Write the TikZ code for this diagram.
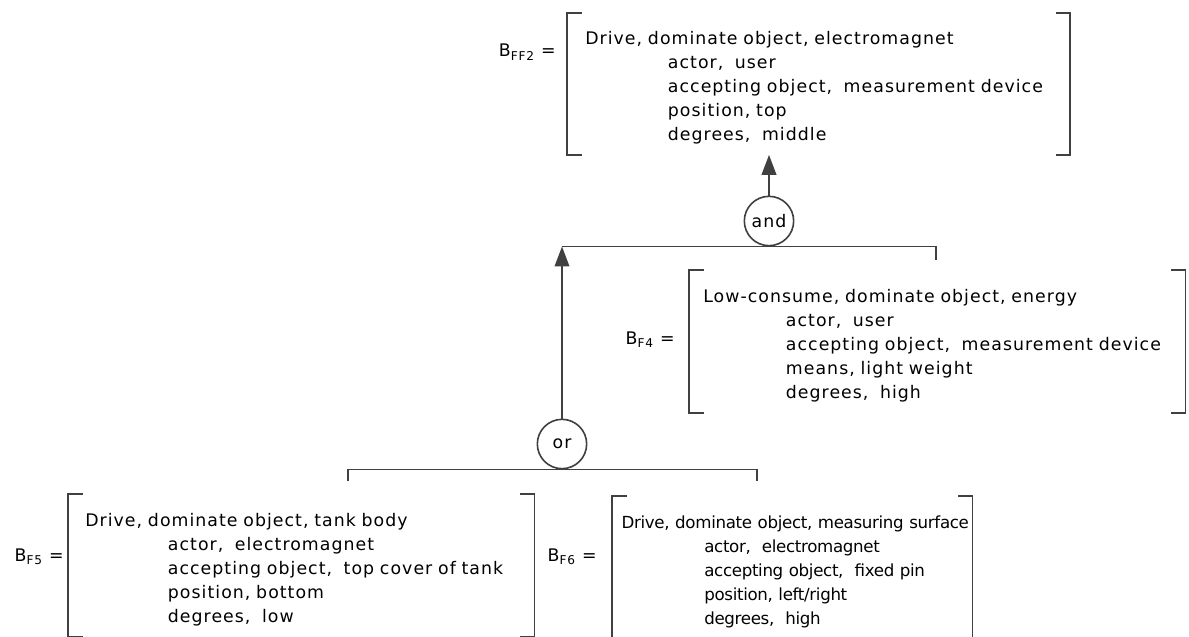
\documentclass[tikz,border=0pt]{standalone}
\usepackage{fontspec}
\newfontfamily\diagfont[LetterSpace=6]{DejaVu Sans}
\newfontfamily\tightfont[LetterSpace=-2]{DejaVu Sans}
\usetikzlibrary{arrows.meta}
\definecolor{linegray}{HTML}{404040}

% one bracketed entry: first line, then four indented lines
\newcommand{\ind}{\hspace*{62pt}}
\newcommand{\entry}[5]{\begin{tabular}{@{}l@{}}\rule{0pt}{18pt}#1\\\ind #2\\\ind #3\\\ind #4\\\ind #5\end{tabular}}
\newcommand{\brackets}[1]{%
  \draw[bracket] ([xshift=11pt]#1.north west) -- (#1.north west) -- (#1.south west) -- ([xshift=11pt]#1.south west);
  \draw[bracket] ([xshift=-11pt]#1.north east) -- (#1.north east) -- (#1.south east) -- ([xshift=-11pt]#1.south east);}

\begin{document}
\begin{tikzpicture}[
    x=0.75pt, y=-0.75pt,
    font=\diagfont\fontsize{13}{18}\selectfont,
    block/.style={rectangle, anchor=north west, align=left, inner ysep=0pt, minimum height=106pt},
    eqlabel/.style={anchor=east, inner sep=0pt},
    gate/.style={circle, draw=linegray, line width=1.2pt, minimum size=37pt, inner sep=0pt},
    bracket/.style={draw=linegray, line width=1.3pt},
    link/.style={draw=linegray, line width=1.3pt},
    arrow/.style={link, -{Triangle[length=15pt,width=11pt]}}
]
\useasboundingbox (0,0) rectangle (1189,636);

% --- Entries ---
\node (ff2) [block, inner xsep=13.5pt, text width=350pt] at (567,13)
  {\entry{Drive, dominate object, electromagnet}{actor,\ \ user}{accepting object,\ \ measurement device}{position, top}{degrees,\ \ middle}};
\node (f4) [block, inner xsep=10.5pt, text width=351pt, minimum height=107pt] at (689,270)
  {\entry{Low-consume, dominate object, energy}{actor,\ \ user}{accepting object,\ \ measurement device}{means, light weight}{degrees,\ \ high}};
\node (f5) [block, inner xsep=12.75pt, text width=324pt, minimum height=107pt] at (68,494)
  {\entry{Drive, dominate object, tank body}{actor,\ \ electromagnet}{accepting object,\ \ top cover of tank}{position, bottom}{degrees,\ \ low}};
\node (f6) [block, font=\tightfont\fontsize{12.5}{18}\selectfont, inner xsep=7pt, text width=256pt, minimum height=107pt] at (612,496)
  {\entry{Drive, dominate object, measuring surface}{actor,\ \ electromagnet}{accepting object,\ \ fixed pin}{position, left/right}{degrees,\ \ high}};

\brackets{ff2}
\brackets{f4}
\brackets{f5}
\brackets{f6}

% --- Labels ---
\node (lff2) [eqlabel] at (556,52) {B\textsubscript{FF2} =};
\node (lf4) [eqlabel] at (675,340) {B\textsubscript{F4} =};
\node (lf5) [eqlabel] at (64,557) {B\textsubscript{F5} =};
\node (lf6) [eqlabel] at (597,557) {B\textsubscript{F6} =};

% --- Gates ---
\node (and) [gate] at (769,221) {and};
\node (or) [gate] at (562,444) {or};

\coordinate (andright) at (936,260);
\coordinate (orleft) at (348,481);
\coordinate (orright) at (757,481);

% --- Edges ---
\draw[arrow] (and.north) -- (and.north |- ff2.south);
\draw[link] (or.north |- and.south) -- (and.south) -| (andright);
\draw[arrow] (or.north) -- (or.north |- and.south);
\draw[link] (orleft) |- (or.south) -| (orright);

\end{tikzpicture}
\end{document}
